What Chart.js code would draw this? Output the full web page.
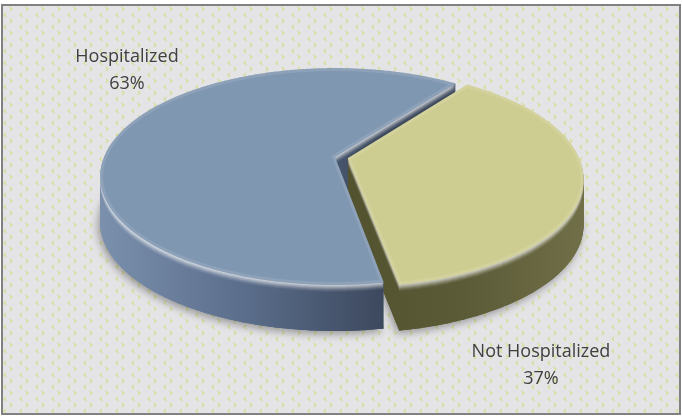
<!DOCTYPE html>
<html>
<head>
<meta charset="utf-8">
<script src="https://cdn.jsdelivr.net/npm/chart.js@4.4.1/dist/chart.umd.min.js"></script>
<style>
  html, body { margin: 0; padding: 0; background: #fff; }
  #wrap { width: 682px; height: 416px; position: relative; }
</style>
</head>
<body>
<div id="wrap"><canvas id="chart"></canvas></div>
<script>
// data
const categories = ['Hospitalized', 'Not Hospitalized'];
const shares = [63, 37];

// look
const topColors = ['#8097b1', '#cecd91'];
const PERSP = 0.18;     // how much bigger the near edge looks than the far edge
const SQUASH = 0.385;   // vertical squash of the pie top
const DEPTH = 46;       // thickness of the pie, px
const labelSpots = [[127, 57], [541, 352]];

const ctx = document.getElementById('chart').getContext('2d');

function makePattern(c) {
  const t = document.createElement('canvas');
  t.width = 16; t.height = 12;
  const g = t.getContext('2d');
  g.fillStyle = '#e4e4e6';
  g.fillRect(0, 0, 16, 12);
  g.strokeStyle = '#d6de98';
  g.lineWidth = 1.3;
  const chev = (x, y, dir) => {
    g.beginPath();
    g.moveTo(x + 2 * dir, y - 2);
    g.lineTo(x, y);
    g.lineTo(x + 2 * dir, y + 2);
    g.stroke();
  };
  chev(4, 3, 1);
  chev(12, 9, -1);
  return c.createPattern(t, 'repeat');
}

const backdrop = {
  id: 'backdrop',
  beforeDraw(chart) {
    const c = chart.ctx;
    c.save();
    c.fillStyle = '#ffffff';
    c.fillRect(0, 0, chart.width, chart.height);
    c.fillStyle = makePattern(c);
    c.fillRect(2, 5, 678, 409);
    c.strokeStyle = '#808080';
    c.lineWidth = 2;
    c.strokeRect(2, 5, 678, 409);
    c.restore();
  }
};

const pie3d = {
  id: 'pie3d',
  beforeDatasetsDraw(chart) {
    const c = chart.ctx;
    const arcs = chart.getDatasetMeta(0).data;

    // disk point (u, v) in radius units -> screen, with a little perspective
    const project = (arc, u, v, dy) => {
      const w = 1 - PERSP * v;
      return [arc.x + arc.outerRadius * u / w,
              arc.y + dy + arc.outerRadius * SQUASH * (1 + PERSP) * v / w];
    };

    const slicePath = (arc, dy) => {
      const mid = (arc.startAngle + arc.endAngle) / 2;
      const off = (arc.options.offset || 0) / arc.outerRadius;
      const ou = Math.cos(mid) * off, ov = Math.sin(mid) * off;
      c.beginPath();
      const p0 = project(arc, ou, ov, dy);
      c.moveTo(p0[0], p0[1]);
      const steps = Math.ceil((arc.endAngle - arc.startAngle) / 0.01);
      for (let s = 0; s <= steps; s++) {
        const a = arc.startAngle + (arc.endAngle - arc.startAngle) * s / steps;
        const p = project(arc, ou + Math.cos(a), ov + Math.sin(a), dy);
        c.lineTo(p[0], p[1]);
      }
      c.closePath();
    };

    const blueSide = c.createLinearGradient(100, 0, 385, 0);
    blueSide.addColorStop(0, '#7b90ac');
    blueSide.addColorStop(0.45, '#5e7290');
    blueSide.addColorStop(1, '#3c485d');
    const yelSide = c.createLinearGradient(345, 0, 585, 0);
    yelSide.addColorStop(0, '#53522f');
    yelSide.addColorStop(0.5, '#5c5b38');
    yelSide.addColorStop(1, '#706f48');
    const sides = [blueSide, yelSide];

    c.save();
    // soft shadow under the pie
    c.shadowColor = 'rgba(0,0,0,0.35)';
    c.shadowBlur = 8;
    c.shadowOffsetX = -2;
    c.shadowOffsetY = 3;
    arcs.forEach((arc, i) => {
      slicePath(arc, DEPTH);
      c.fillStyle = sides[i];
      c.fill();
    });
    c.restore();

    // walls
    for (let d = DEPTH; d >= 1; d--) {
      arcs.forEach((arc, i) => {
        slicePath(arc, d);
        c.fillStyle = sides[i];
        c.fill();
      });
    }
    // rounded lip just below the top
    for (let d = 7; d >= 1; d--) {
      arcs.forEach((arc) => {
        slicePath(arc, d);
        c.fillStyle = 'rgba(255,255,255,' + (0.035 * (8 - d)) + ')';
        c.fill();
      });
    }
    // tops
    arcs.forEach((arc, i) => {
      slicePath(arc, 0);
      c.fillStyle = topColors[i];
      c.fill();
      c.save();
      c.clip();
      c.strokeStyle = 'rgba(255,255,255,0.10)';
      c.lineWidth = 6;
      c.stroke();
      c.restore();
    });
    return false;
  },
  afterDraw(chart) {
    const c = chart.ctx;
    c.save();
    c.font = '18px "Open Sans"';
    c.fillStyle = '#404040';
    c.textAlign = 'center';
    c.textBaseline = 'middle';
    categories.forEach((name, i) => {
      const [x, y] = labelSpots[i];
      c.fillText(name, x, y);
      c.fillText(shares[i] + '%', x, y + 27);
    });
    c.restore();
  }
};

new Chart(ctx, {
  type: 'pie',
  data: {
    labels: categories,
    datasets: [{
      data: shares,
      backgroundColor: topColors,
      borderWidth: 0,
      offset: [0, 13]
    }]
  },
  options: {
    responsive: true,
    maintainAspectRatio: false,
    animation: false,
    rotation: 170,
    radius: 231,
    layout: { padding: { left: 0, right: 12, top: 0, bottom: 102 } },
    plugins: {
      legend: { display: false },
      tooltip: { enabled: false }
    }
  },
  plugins: [backdrop, pie3d]
});
</script>
</body>
</html>
